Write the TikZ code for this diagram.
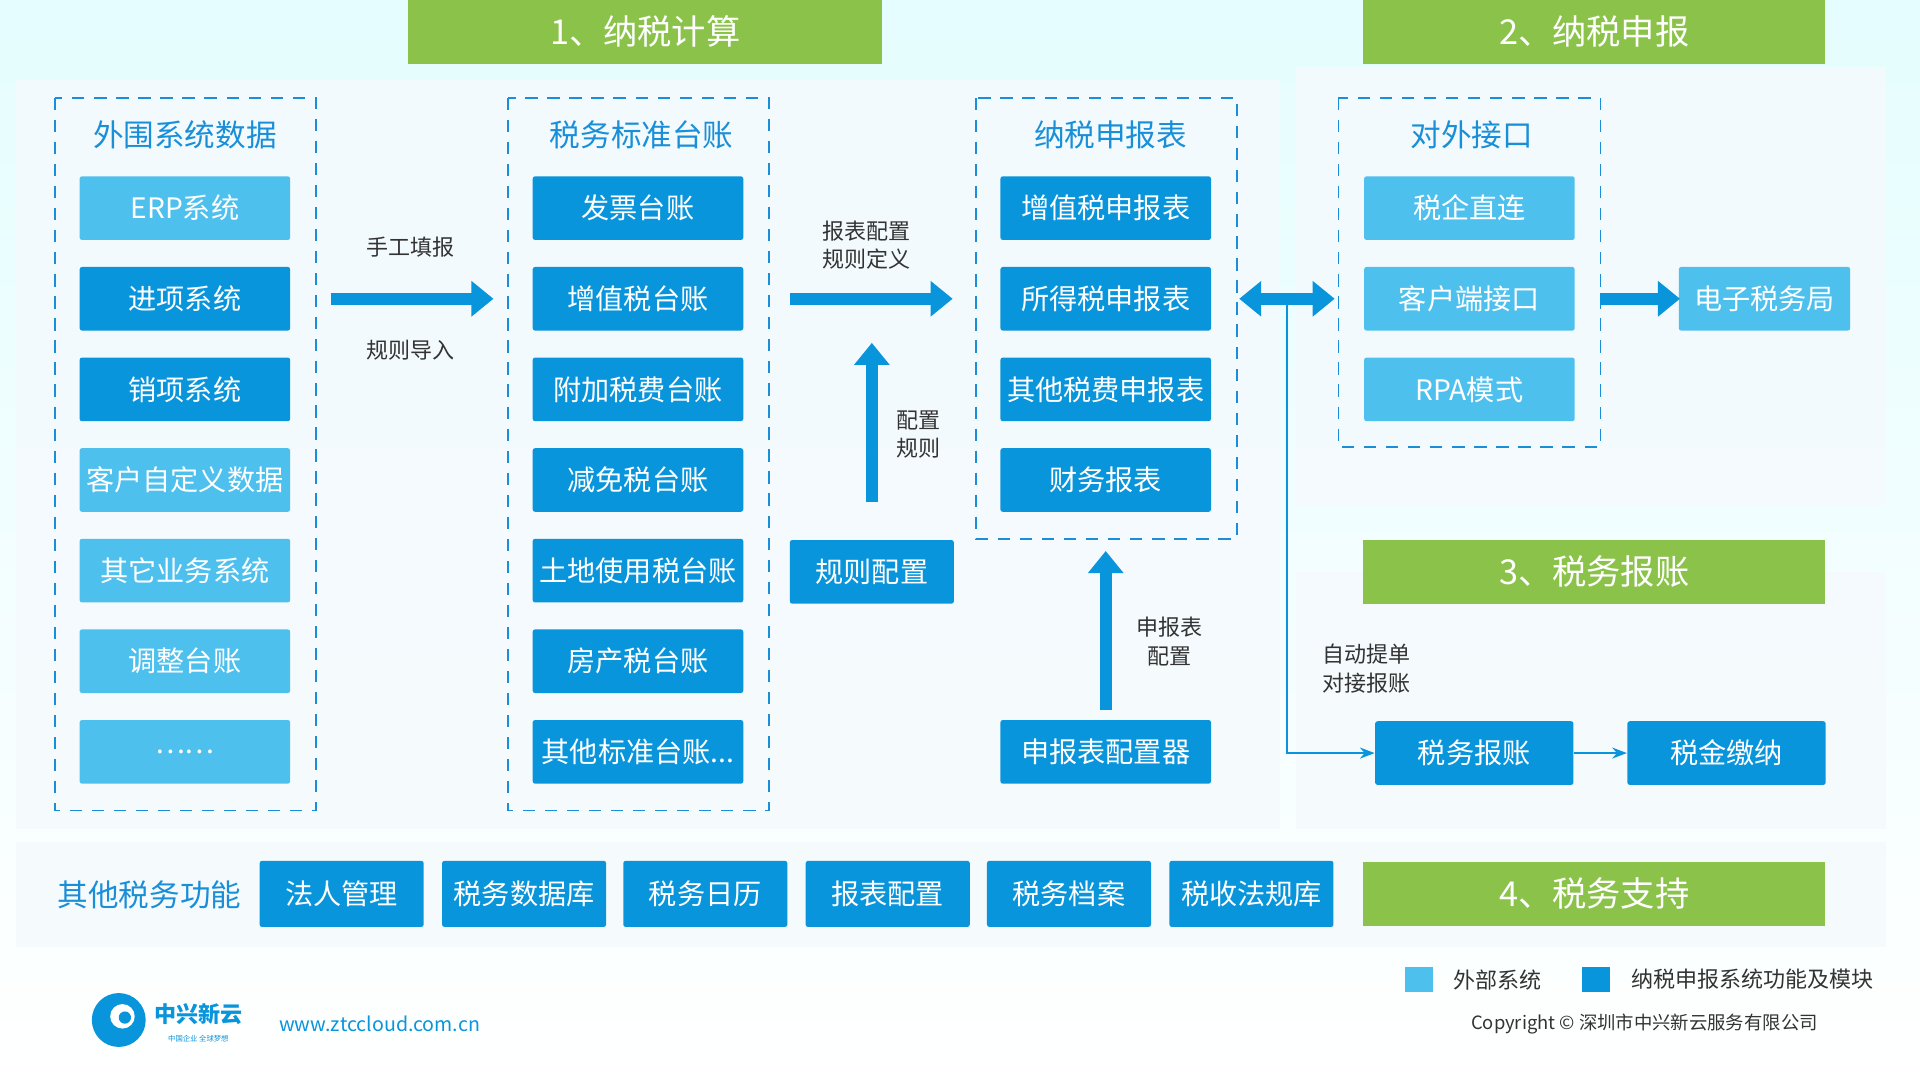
\documentclass[tikz,border=0pt]{standalone}
\usepackage{fontspec}
\setmainfont{Noto Sans CJK SC}
\usetikzlibrary{arrows.meta}
\definecolor{lb}{HTML}{4EC0EE}
\definecolor{db}{HTML}{0995DC}
\definecolor{gr}{HTML}{8BC34A}
\definecolor{tb}{HTML}{1A8FD8}
\definecolor{pan}{HTML}{EEF7FC}
\begin{document}
\begin{tikzpicture}[x=0.5pt,y=-0.5pt,
 bx/.style={minimum width=86pt,minimum height=26pt,inner sep=0pt,text=white,font=\fontsize{11.5}{12}\selectfont,rounded corners=1pt},
 L/.style={bx,fill=lb}, D/.style={bx,fill=db},
 hd/.style={fill=gr,text=white,minimum width=188.5pt,minimum height=26pt,inner sep=0pt,font=\fontsize{14}{15}\selectfont},
 dsh/.style={draw=tb,dashed,line width=0.7pt,dash pattern=on 5pt off 4pt},
 tt/.style={text=tb,font=\fontsize{12.5}{13}\selectfont},
 lab/.style={font=\fontsize{9}{11.5}\selectfont,text=black!80,align=center},
 big/.style={db,line width=5pt,-{Triangle[width=14pt,length=9pt]}},
 thin/.style={db,line width=0.8pt,-{Stealth[length=6pt]}}]
\useasboundingbox (0,0) rectangle (1568,882);
\shade[top color=pan!70!cyan!30,bottom color=white] (0,0) rectangle (1568,882);
\fill[pan!60!white,opacity=0.8] (13,65) rectangle (1045,677);
\fill[pan!60!white,opacity=0.8] (1058,55) rectangle (1540,413);
\fill[pan!60!white,opacity=0.8] (1058,467) rectangle (1540,677);
\fill[pan!60!white] (13,688) rectangle (1540,773);
\node[hd,minimum width=193.5pt] (h1) at (527,26) {1、纳税计算};
\node[hd] (h2) at (1302,26) {2、纳税申报};
\node[hd] (h3) at (1302,467) {3、税务报账};
\node[hd] (h4) at (1302,730) {4、税务支持};
\draw[dsh] (45,80) rectangle (258,662);
\draw[dsh] (415,80) rectangle (628,662);
\draw[dsh] (797,80) rectangle (1010,440);
\draw[dsh] (1093,80) rectangle (1307,365);
\node[tt] (t1) at (151,110) {外围系统数据};
\node[tt] (t2) at (524,110) {税务标准台账};
\node[tt] (t3) at (907,110) {纳税申报表};
\node[tt] (t4) at (1202,110) {对外接口};
\node[L] (a1) at (151,170) {ERP系统};
\node[D] (a2) at (151,244) {进项系统};
\node[D] (a3) at (151,318) {销项系统};
\node[L] (a4) at (151,392) {客户自定义数据};
\node[L] (a5) at (151,466) {其它业务系统};
\node[L] (a6) at (151,540) {调整台账};
\node[L] (a7) at (151,614) {……};
\node[D] (b1) at (521,170) {发票台账};
\node[D] (b2) at (521,244) {增值税台账};
\node[D] (b3) at (521,318) {附加税费台账};
\node[D] (b4) at (521,392) {减免税台账};
\node[D] (b5) at (521,466) {土地使用税台账};
\node[D] (b6) at (521,540) {房产税台账};
\node[D] (b7) at (521,614) {其他标准台账...};
\node[D] (c1) at (903,170) {增值税申报表};
\node[D] (c2) at (903,244) {所得税申报表};
\node[D] (c3) at (903,318) {其他税费申报表};
\node[D] (c4) at (903,392) {财务报表};
\node[D] (c5) at (903,614) {申报表配置器};
\node[D,minimum width=67pt] (r) at (712,467) {规则配置};
\node[L] (d1) at (1200,170) {税企直连};
\node[L] (d2) at (1200,244) {客户端接口};
\node[L] (d3) at (1200,318) {RPA模式};
\node[L,minimum width=70pt] (e) at (1441,244) {电子税务局};
\node[D,minimum width=81pt] (f1) at (1204,615) {税务报账};
\node[D,minimum width=81pt] (f2) at (1410,615) {税金缴纳};
\foreach \n/\x/\t in {g1/279/法人管理,g2/428/税务数据库,g3/576/税务日历,g4/725/报表配置,g5/873/税务档案,g6/1022/税收法规库}
 \node[D,minimum width=67pt,minimum height=27pt] (\n) at (\x,730) {\t};
\node[text=tb,font=\fontsize{12.5}{13}\selectfont] (o) at (122,731) {其他税务功能};
\coordinate (p1) at (270,244); \coordinate (p2) at (403,244);
\draw[big] (p1) -- (p2);
\coordinate (q1) at (645,244); \coordinate (q2) at (778,244);
\draw[big] (q1) -- (q2);
\coordinate (u1) at (712,410); \coordinate (u2) at (712,280);
\draw[big] (u1) -- (u2);
\coordinate (v1) at (903,580); \coordinate (v2) at (903,450);
\draw[big] (v1) -- (v2);
\coordinate (w1) at (1012,244); \coordinate (w2) at (1090,244);
\draw[db,line width=5pt,{Triangle[width=14pt,length=9pt]}-{Triangle[width=14pt,length=9pt]}] (w1) -- (w2);
\coordinate (x1) at (1307,244); \coordinate (x2) at (1372,244);
\draw[big] (x1) -- (x2);
\coordinate (j) at (1051,244);
\draw[thin] (j) |- (f1.west);
\draw[thin] (f1) -- (f2);
\node[lab] (l1) at (335,202) {手工填报};
\node[lab] (l2) at (335,286) {规则导入};
\node[lab] (l3) at (708,200) {报表配置\\规则定义};
\node[lab] (l4) at (750,355) {配置\\规则};
\node[lab] (l5) at (955,524) {申报表\\配置};
\node[lab,align=left] (l6) at (1116,546) {自动提单\\对接报账};
\fill[lb] (1147,790) rectangle (1170,810);
\fill[db] (1292,790) rectangle (1315,810);
\node[lab,anchor=west] (k1) at (1180,800) {外部系统};
\node[lab,anchor=west] (k2) at (1325,800) {纳税申报系统功能及模块};
\node[font=\fontsize{7.5}{10}\selectfont,text=black!80] (cp) at (1343,836) {Copyright © 深圳市中兴新云服务有限公司};
\node[font=\fontsize{8}{10}\selectfont,text=db] (url) at (310,836) {www.ztccloud.com.cn};
\fill[db] (97,833) circle (22);
\fill[white] (100,830) circle (10);
\fill[db] (102,831) circle (5);
\node[font=\fontsize{9}{10}\selectfont\bfseries,text=db] (lg) at (162,828) {中兴新云};
\node[font=\fontsize{3}{4}\selectfont,text=db] (lg2) at (162,848) {中国企业 全球梦想};
\end{tikzpicture}
\end{document}
